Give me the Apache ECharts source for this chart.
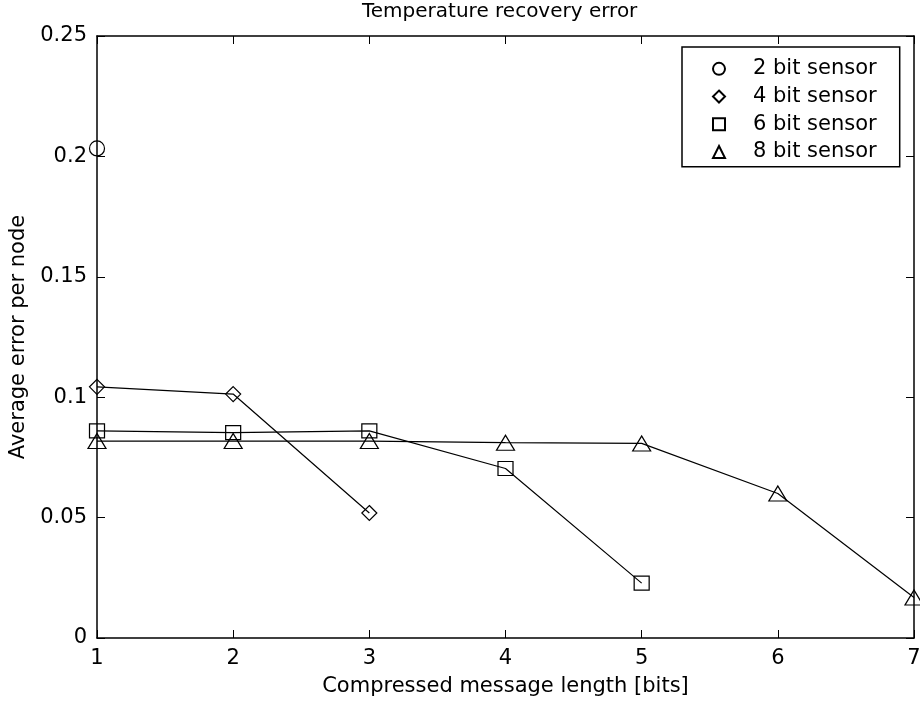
<!DOCTYPE html>
<html>
<head>
<meta charset="utf-8">
<title>Temperature recovery error</title>
<script src="https://cdn.jsdelivr.net/npm/echarts@6/dist/echarts.min.js"></script>
<style>
  html, body { margin: 0; padding: 0; background: #fff; }
  #chart { width: 920px; height: 708px; }
</style>
</head>
<body>
<div id="chart"></div>
<script>
// Compressed message length [bits] for each point of a series
const lengths = [1, 2, 3, 4, 5, 6, 7];

// Average error per node for each sensor resolution
const sensor2 = [0.2033];
const sensor4 = [0.1043, 0.1013, 0.0519];
const sensor6 = [0.0860, 0.0853, 0.0860, 0.0704, 0.0228];
const sensor8 = [0.0818, 0.0818, 0.0818, 0.0811, 0.0808, 0.0600, 0.0168];

const seriesNames = ['2 bit sensor', '4 bit sensor', '6 bit sensor', '8 bit sensor'];
const seriesValues = [sensor2, sensor4, sensor6, sensor8];
const markers = ['circle', 'diamond', 'rect', 'triangle'];
const markerSizes = [15, 15, [15, 14], [18, 15]];

const FONT = 'DejaVu Sans';

const pairs = (vals) => vals.map((v, i) => [lengths[i], v]);

const chart = echarts.init(document.getElementById('chart'), null, { renderer: 'canvas' });

const axisCommon = {
  axisLine: { show: true, onZero: false, lineStyle: { color: '#000', width: 1.5 } },
  axisTick: { show: true, inside: true, length: 8, lineStyle: { color: '#000', width: 1 } },
  splitLine: { show: false }
};

chart.setOption({
  animation: false,
  backgroundColor: '#fff',
  title: {
    text: 'Temperature recovery error',
    left: 362,
    top: 2,
    padding: 0,
    textStyle: { fontFamily: FONT, fontSize: 20, fontWeight: 'normal', color: '#000' }
  },
  grid: { left: 97, right: 6, top: 36, bottom: 70, containLabel: false, outerBoundsMode: 'none' },
  legend: {
    orient: 'vertical',
    left: 682,
    top: 47,
    padding: [8, 23, 1, 30],
    itemGap: 0,
    itemWidth: 12,
    itemHeight: 12,
    symbolKeepAspect: true,
    backgroundColor: '#fff',
    borderColor: '#000',
    borderWidth: 1.5,
    borderRadius: 0,
    textStyle: { fontFamily: FONT, fontSize: 21, color: '#000', lineHeight: 27.7, padding: [0, 0, 0, 23] },
    data: seriesNames.map((n, i) => ({ name: n, icon: markers[i] }))
  },
  xAxis: [
    Object.assign({}, axisCommon, {
      type: 'value', position: 'bottom', min: 1, max: 7, interval: 1,
      name: 'Compressed message length [bits]',
      nameLocation: 'middle', nameGap: 38,
      nameTextStyle: { fontFamily: FONT, fontSize: 21, color: '#000' },
      axisLabel: { fontFamily: FONT, fontSize: 21, color: '#000', margin: 10, hideOverlap: false }
    }),
    Object.assign({}, axisCommon, {
      type: 'value', position: 'top', min: 1, max: 7, interval: 1,
      axisLabel: { show: false }
    })
  ],
  yAxis: [
    Object.assign({}, axisCommon, {
      type: 'value', position: 'left', min: 0, max: 0.25, interval: 0.05,
      name: 'Average error per node',
      nameLocation: 'middle', nameGap: 66,
      nameTextStyle: { fontFamily: FONT, fontSize: 21, color: '#000' },
      axisLabel: { fontFamily: FONT, fontSize: 21, color: '#000', margin: 10, hideOverlap: false }
    }),
    Object.assign({}, axisCommon, {
      type: 'value', position: 'right', min: 0, max: 0.25, interval: 0.05,
      axisLabel: { show: false }
    })
  ],
  series: seriesValues.map((vals, i) => ({
    name: seriesNames[i],
    type: 'line',
    xAxisIndex: 0,
    yAxisIndex: 0,
    data: pairs(vals),
    symbol: markers[i],
    symbolSize: markerSizes[i],
    showAllSymbol: true,
    clip: false,
    lineStyle: { color: '#000', width: 1.2 },
    itemStyle: { color: 'rgba(255,255,255,0)', borderColor: '#000', borderWidth: 1.2 },
    emphasis: { disabled: true }
  }))
});
</script>
</body>
</html>
